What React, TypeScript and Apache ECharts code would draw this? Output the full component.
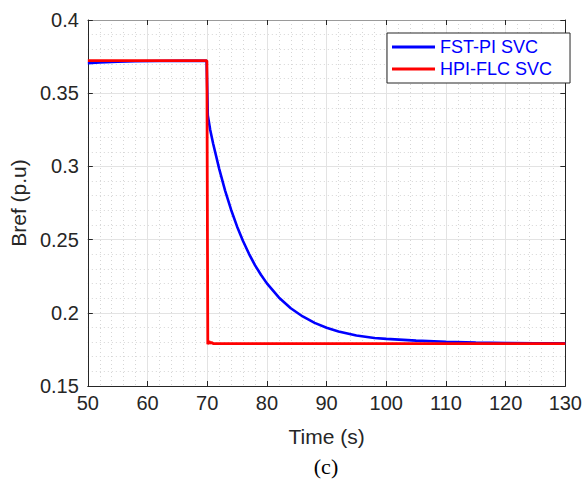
import React, { useEffect, useRef } from "react";
import * as echarts from "echarts";

const blueTimes = [50, 52, 55, 58, 62, 66, 69.9, 70.05, 70.1, 70.5, 71, 72, 73, 74, 75, 76, 77, 78, 79, 80, 82, 84, 86, 88, 90, 92, 95, 98, 100, 105, 110, 115, 120, 125, 130];
const blueValues = [0.3705, 0.371, 0.3715, 0.3718, 0.372, 0.3721, 0.3721, 0.345, 0.335, 0.325, 0.3155, 0.2985, 0.2835, 0.2704, 0.259, 0.249, 0.2403, 0.2326, 0.226, 0.2201, 0.2105, 0.2031, 0.1975, 0.1931, 0.1898, 0.1873, 0.1845, 0.1828, 0.1822, 0.181, 0.1802, 0.1797, 0.1794, 0.1792, 0.1791];

const redTimes = [50, 69.95, 70.1, 70.3, 70.5, 70.7, 71, 130];
const redValues = [0.3722, 0.3722, 0.1785, 0.1805, 0.1792, 0.1798, 0.179, 0.179];

const xTicks = { min: 50, max: 130, interval: 10 };
const yTicks = { min: 0.15, max: 0.4, interval: 0.05 };

const seriesNames = ["FST-PI SVC", "HPI-FLC SVC"];

const FONT = "Liberation Sans, Arial, Helvetica, sans-serif";
const AX = "#262626";

export default function App() {
  const ref = useRef<HTMLDivElement>(null);
  useEffect(() => {
    if (!ref.current) return;
    const chart = echarts.init(ref.current, undefined, { renderer: "svg" });
    const zip = (t: number[], v: number[]) => t.map((x, i) => [x, v[i]]);
    const baseAxis = {
      type: "value" as const,
      axisLine: { show: true, onZero: false, lineStyle: { color: AX, width: 1 } },
      axisTick: { show: true, inside: true, length: 5, lineStyle: { color: AX } },
    };
    chart.setOption({
      animation: false,
      backgroundColor: "#ffffff",
      grid: { left: 86, right: 19, top: 20, bottom: 93, containLabel: false },
      legend: {
        data: seriesNames,
        orient: "vertical",
        left: 387,
        top: 33,
        backgroundColor: "#ffffff",
        borderColor: AX,
        borderWidth: 1,
        borderRadius: 0,
        padding: [5, 18, 5, 5],
        itemGap: 4,
        itemWidth: 43,
        itemHeight: 3,
        icon: "rect",
        textStyle: { fontFamily: FONT, fontSize: 18, color: "#0000ff" },
      },
      xAxis: [
        {
          ...baseAxis,
          min: xTicks.min,
          max: xTicks.max,
          interval: xTicks.interval,
          position: "bottom",
          name: "Time (s)",
          nameLocation: "middle",
          nameGap: 40,
          nameTextStyle: { fontFamily: FONT, fontSize: 21, color: AX },
          axisLabel: { fontFamily: FONT, fontSize: 20, color: AX, margin: 7 },
          minorTick: { show: true, splitNumber: 5, length: 0 },
          splitLine: { show: true, lineStyle: { color: "#e3e3e3", width: 1 } },
          minorSplitLine: { show: true, lineStyle: { color: "#d6d6d6", width: 1, type: [1, 3] } },
        },
        {
          ...baseAxis,
          min: xTicks.min,
          max: xTicks.max,
          interval: xTicks.interval,
          position: "top",
          axisLine: { show: true, onZero: false, lineStyle: { color: "#9a9a9a", width: 1 } },
          axisLabel: { show: false },
          splitLine: { show: false },
        },
      ],
      yAxis: [
        {
          ...baseAxis,
          min: yTicks.min,
          max: yTicks.max,
          interval: yTicks.interval,
          position: "left",
          name: "Bref (p.u)",
          nameLocation: "middle",
          nameGap: 55,
          nameTextStyle: { fontFamily: FONT, fontSize: 21, color: AX },
          axisLabel: { fontFamily: FONT, fontSize: 20, color: AX, margin: 9, formatter: (v: number) => String(+v.toFixed(2)) },
          minorTick: { show: true, splitNumber: 5, length: 0 },
          splitLine: { show: true, lineStyle: { color: "#e3e3e3", width: 1 } },
          minorSplitLine: { show: true, lineStyle: { color: "#d6d6d6", width: 1, type: [1, 3] } },
        },
        {
          ...baseAxis,
          min: yTicks.min,
          max: yTicks.max,
          interval: yTicks.interval,
          position: "right",
          axisLabel: { show: false },
          splitLine: { show: false },
        },
      ],
      series: [
        {
          name: seriesNames[0],
          type: "line",
          data: zip(blueTimes, blueValues),
          showSymbol: false,
          symbol: "none",
          smooth: false,
          color: "#0000ff",
          lineStyle: { color: "#0000ff", width: 2.6 },
          z: 3,
        },
        {
          name: seriesNames[1],
          type: "line",
          data: zip(redTimes, redValues),
          showSymbol: false,
          symbol: "none",
          color: "#ff0000",
          lineStyle: { color: "#ff0000", width: 2.8 },
          z: 4,
        },
      ],
      graphic: [
        {
          type: "text",
          x: 326,
          y: 466,
          style: {
            text: "(c)",
            fontFamily: "Liberation Serif, Times New Roman, serif",
            fontSize: 22,
            fill: "#000000",
            textAlign: "center",
            textVerticalAlign: "middle",
          },
        },
      ],
    });
    return () => chart.dispose();
  }, []);
  return <div ref={ref} style={{ width: 585, height: 479, position: "absolute", left: 0, top: 0 }} />;
}
